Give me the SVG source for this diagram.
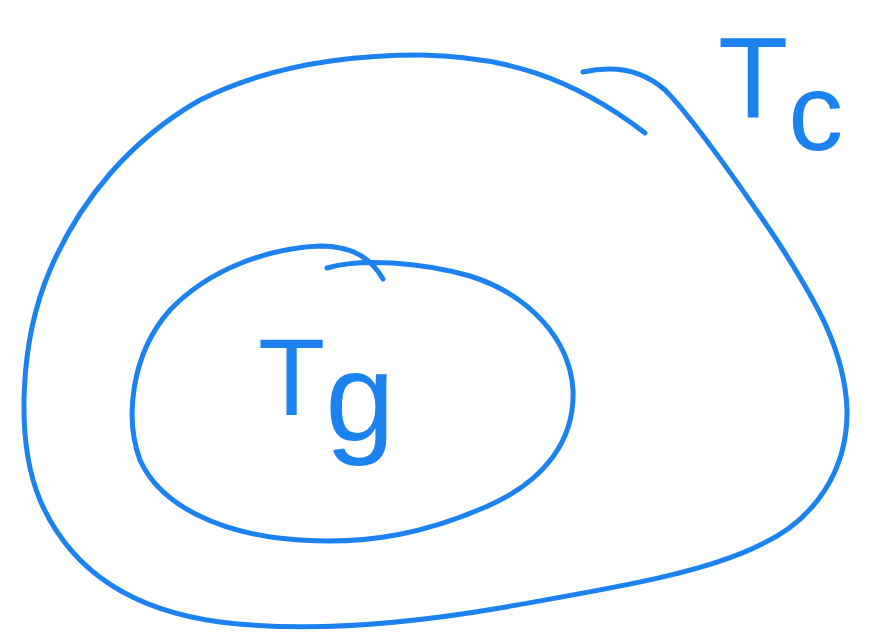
<svg xmlns="http://www.w3.org/2000/svg" width="889" height="633" viewBox="0 0 889 633">
<style>
.ink{fill:none;stroke:#1b82f0;stroke-width:5;stroke-linecap:round;stroke-linejoin:round}
.lbl{fill:#1b82f0;font-family:"Liberation Sans",Arial,sans-serif}
</style>
<rect width="889" height="633" fill="#ffffff"/>
<g id="outer">
<path class="ink" d="M583,72 C610,66 640,68 665,90 C690,115 740,185 780,245 C815,300 845,350 847,410 C848,470 815,520 760,545 C700,575 600,590 500,608 C400,625 300,632 220,622 C130,610 70,570 40,500 C15,440 20,340 50,270 C80,200 130,140 200,100 C270,65 350,55 420,55 C500,56 570,75 645,133"/>
<text class="lbl" x="718" y="118" font-size="115">T<tspan font-size="110" dy="32">c</tspan></text>
</g>
<g id="inner">
<path class="ink" d="M327,268 C360,258 420,262 470,276 C530,295 570,340 573,390 C575,440 545,480 490,505 C430,532 370,545 300,540 C220,535 160,505 140,460 C125,420 130,355 170,310 C210,268 270,248 320,246 C355,246 372,260 383,279"/>
<text class="lbl" x="258" y="415" font-size="110">T<tspan font-size="125" dy="25">g</tspan></text>
</g>
</svg>
